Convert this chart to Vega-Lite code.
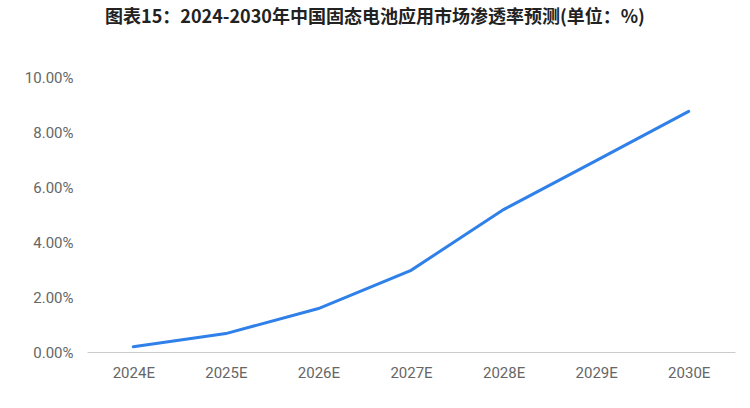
{
  "$schema": "https://vega.github.io/schema/vega-lite/v6.json",
  "width": 648,
  "height": 275,
  "autosize": {"type": "none"},
  "padding": {"left": 87, "top": 77, "right": 15, "bottom": 56},
  "background": "white",
  "title": {
    "text": "图表15：2024-2030年中国固态电池应用市场渗透率预测(单位：%)",
    "font": "Noto Sans CJK SC",
    "fontSize": 18,
    "fontWeight": "bold",
    "color": "#222222",
    "anchor": "middle",
    "dx": -36,
    "offset": 43
  },
  "data": {
    "values": [
      {"year": "2024E", "rate": 0.0019},
      {"year": "2025E", "rate": 0.0067},
      {"year": "2026E", "rate": 0.0158},
      {"year": "2027E", "rate": 0.0297},
      {"year": "2028E", "rate": 0.0518},
      {"year": "2029E", "rate": 0.0696},
      {"year": "2030E", "rate": 0.0875}
    ]
  },
  "mark": {"type": "line", "color": "#2f80e8", "strokeWidth": 3, "strokeCap": "round"},
  "encoding": {
    "x": {
      "field": "year",
      "type": "ordinal",
      "scale": {"type": "point", "padding": 0.5},
      "axis": {
        "title": null,
        "labelAngle": 0,
        "labelFont": "Roboto",
        "labelFontSize": 15,
        "labelColor": "#666666",
        "labelPadding": 13,
        "ticks": false,
        "domainColor": "#cccccc",
        "grid": false
      }
    },
    "y": {
      "field": "rate",
      "type": "quantitative",
      "scale": {"domain": [0, 0.1]},
      "axis": {
        "title": null,
        "format": ".2%",
        "values": [0, 0.02, 0.04, 0.06, 0.08, 0.1],
        "labelFont": "Roboto",
        "labelFontSize": 15,
        "labelColor": "#666666",
        "labelPadding": 14,
        "ticks": false,
        "domain": false,
        "grid": false
      }
    }
  },
  "config": {"view": {"stroke": null}}
}
